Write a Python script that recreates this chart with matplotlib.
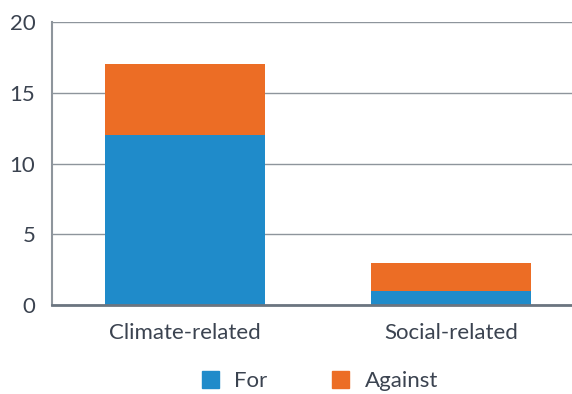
import matplotlib.pyplot as plt
from matplotlib.patches import Patch

categories = ['Climate-related', 'Social-related']
votes_for = [12, 1]
votes_against = [5, 2]

blue = '#1f8bca'
orange = '#ec6d25'
text_col = '#3b4350'
grid_col = '#8e959c'

plt.rcParams['font.family'] = ['Lato', 'DejaVu Sans']

fig = plt.figure(figsize=(5.72, 3.94), dpi=100)
ax = fig.add_axes([52 / 572, 1 - 305 / 394, 1 - 52 / 572, (305 - 22) / 394])

x = list(range(len(categories)))
ax.bar(x, votes_for, width=0.6, color=blue, label='For', zorder=3)
ax.bar(x, votes_against, width=0.6, bottom=votes_for, color=orange, label='Against', zorder=3)

ax.set_xlim(-0.5, 1.455)
ax.set_ylim(0, 20)
ax.set_yticks([0, 5, 10, 15, 20])
ax.set_xticks(x)
ax.set_xticklabels(categories)
ax.grid(axis='y', color=grid_col, linewidth=1, zorder=0)
ax.tick_params(axis='both', length=0, labelsize=16, colors=text_col, pad=12)
ax.tick_params(axis='x', pad=13)

for s in ['top', 'right']:
    ax.spines[s].set_visible(False)
ax.spines['left'].set_color(grid_col)
ax.spines['left'].set_linewidth(1.5)
ax.spines['bottom'].set_color('#6b7580')
ax.spines['bottom'].set_linewidth(2)
ax.spines['bottom'].set_zorder(4)

handles = [Patch(color=blue, label='For'), Patch(color=orange, label='Against')]
leg = fig.legend(handles=handles, loc='center', bbox_to_anchor=(320 / 572, 1 - 381 / 394),
                 ncol=2, frameon=False, fontsize=16, handlelength=0.78, handleheight=0.78,
                 columnspacing=2.9, handletextpad=0.68)
for t in leg.get_texts():
    t.set_color(text_col)

fig.savefig('out.png', dpi=100)
